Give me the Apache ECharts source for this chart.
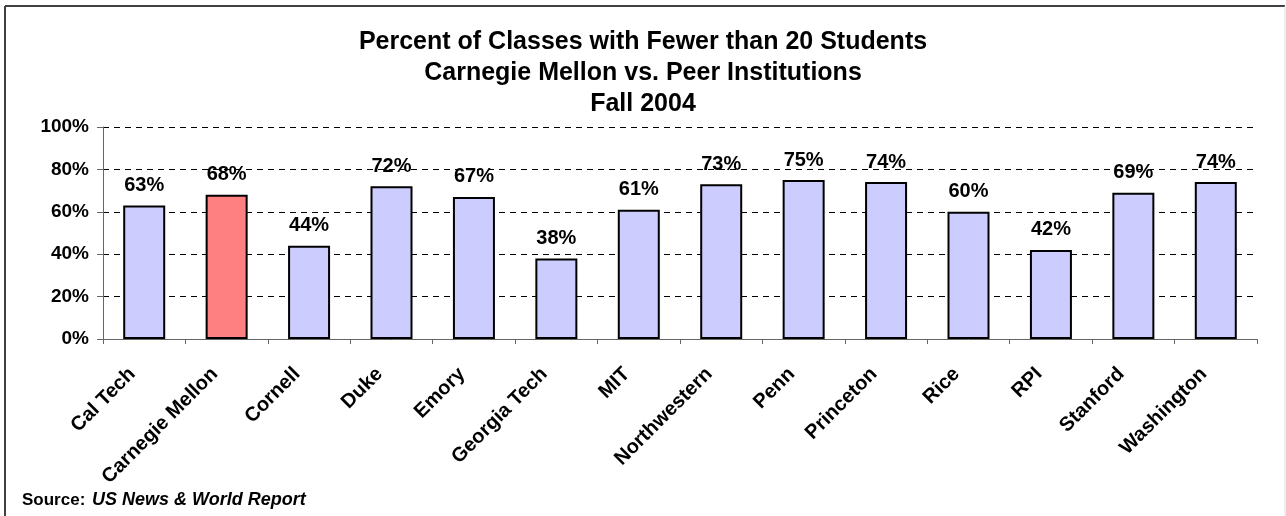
<!DOCTYPE html>
<html>
<head>
<meta charset="utf-8">
<script src="https://cdn.jsdelivr.net/npm/echarts@6/dist/echarts.min.js"></script>
<style>
  html, body { margin: 0; padding: 0; background: #fff; }
  #chart { width: 1286px; height: 516px; }
</style>
</head>
<body>
<div id="chart"></div>
<script>
// 学校名称
const schools = ['Cal Tech', 'Carnegie Mellon', 'Cornell', 'Duke', 'Emory', 'Georgia Tech', 'MIT',
  'Northwestern', 'Penn', 'Princeton', 'Rice', 'RPI', 'Stanford', 'Washington'];
// 小班比例 (%)
const percents = [63, 68, 44, 72, 67, 38, 61, 73, 75, 74, 60, 42, 69, 74];
const highlight = 'Carnegie Mellon';
const yTicks = [0, 20, 40, 60, 80, 100];

const font = 'Arial, "Liberation Sans", Helvetica, sans-serif';

let myChart = echarts.init(document.getElementById('chart'));
let option = {
  animation: false,
  title: {
    text: 'Percent of Classes with Fewer than 20 Students\nCarnegie Mellon vs. Peer Institutions\nFall 2004',
    left: 'center',
    top: 22,
    textStyle: {
      fontFamily: font,
      fontSize: 25,
      fontWeight: 'bold',
      color: '#000',
      lineHeight: 31
    }
  },
  grid: {
    left: 103,
    right: 29,
    top: 127,
    bottom: 177
  },
  xAxis: {
    type: 'category',
    data: schools,
    axisLine: { lineStyle: { color: '#666', width: 1 } },
    axisTick: { show: true, length: 5, lineStyle: { color: '#666' } },
    axisLabel: {
      rotate: 45,
      interval: 0,
      margin: 20,
      padding: [0, 17, 0, 0],
      fontFamily: font,
      fontSize: 20,
      fontWeight: 'bold',
      color: '#000'
    }
  },
  yAxis: {
    type: 'value',
    min: yTicks[0],
    max: yTicks[yTicks.length - 1],
    interval: 20,
    axisLine: { show: true, lineStyle: { color: '#666', width: 1 } },
    axisTick: { show: true, length: 6, lineStyle: { color: '#666' } },
    axisLabel: {
      formatter: '{value}%',
      margin: 14,
      fontFamily: font,
      fontSize: 19,
      fontWeight: 'bold',
      color: '#000'
    },
    splitLine: {
      lineStyle: {
        // 虚线网格
        color: '#000',
        type: [6, 5],
        width: 1
      }
    }
  },
  series: [
    {
      type: 'bar',
      barWidth: 42,
      data: percents.map((v, i) => ({
        value: v,
        itemStyle: { color: schools[i] === highlight ? '#FF8080' : '#CCCCFF' }
      })),
      itemStyle: {
        borderColor: '#000',
        borderWidth: 2
      },
      label: {
        show: true,
        position: 'top',
        distance: 10,
        formatter: '{c}%',
        fontFamily: font,
        fontSize: 20,
        fontWeight: 'bold',
        color: '#000'
      }
    }
  ],
  graphic: [
    { type: 'line', shape: { x1: 5, y1: 6, x2: 5, y2: 516 }, style: { stroke: '#404040', lineWidth: 2 } },
    { type: 'line', shape: { x1: 5, y1: 6, x2: 1285, y2: 6 }, style: { stroke: '#404040', lineWidth: 2 } },
    { type: 'line', shape: { x1: 1285, y1: 6, x2: 1285, y2: 516 }, style: { stroke: '#ddd', lineWidth: 1 } },
    {
      type: 'text',
      left: 22,
      top: 491,
      style: {
        text: '{a|Source:}  {b|US News & World Report}',
        rich: {
          a: { fontFamily: font, fontSize: 17, fontWeight: 'bold', fill: '#000' },
          b: { fontFamily: font, fontSize: 18, fontWeight: 'bold', fontStyle: 'italic', fill: '#000' }
        }
      }
    }
  ]
};
myChart.setOption(option);
</script>
</body>
</html>
